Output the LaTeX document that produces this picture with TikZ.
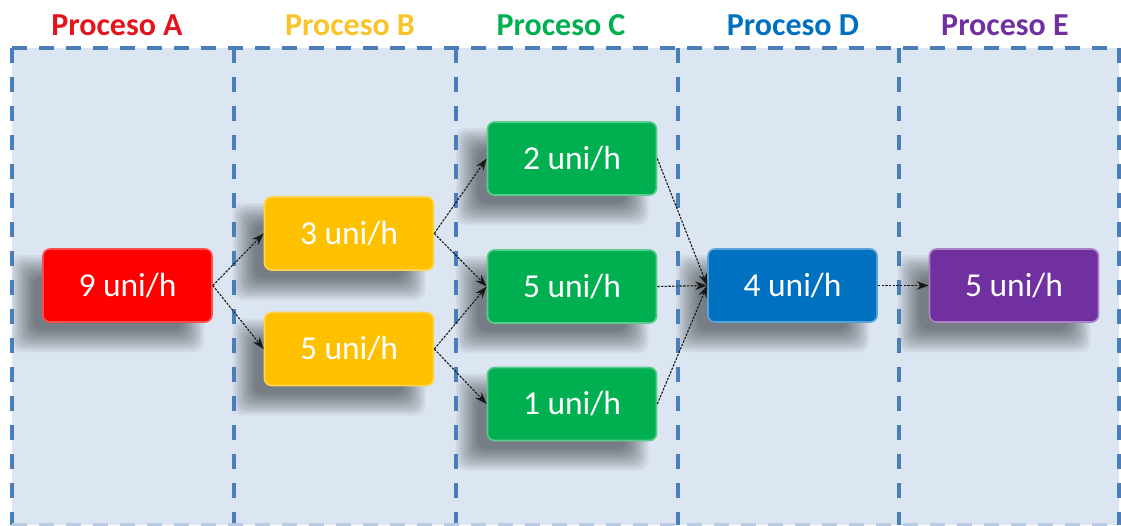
\documentclass[tikz,border=0pt]{standalone}
\usepackage{fontspec}
\setmainfont{Carlito}
\usetikzlibrary{arrows.meta}

\definecolor{panel}{HTML}{DCE6F2}
\definecolor{frameblue}{HTML}{4A7EBB}
\definecolor{redbox}{HTML}{FF0000}
\definecolor{yellowbox}{HTML}{FFC000}
\definecolor{greenbox}{HTML}{00B050}
\definecolor{bluebox}{HTML}{0070C0}
\definecolor{purplebox}{HTML}{7030A0}
\definecolor{redtitle}{HTML}{E3141C}
\definecolor{yellowtitle}{HTML}{F8C42A}

% soft drop shadow under a unit box centred at (#1,#2)
\newcommand\softshadow[2]{%
  \foreach \i in {0,...,11}{%
    \fill[black,opacity=0.048,rounded corners=10pt]
      ({#1-116.5+2*\i},{#2-30.5+2*\i}) rectangle ({#1+76.5-2*\i},{#2+66.5-2*\i});
  }%
}

\begin{document}
\begin{tikzpicture}[x=1pt,y=-1pt,
  unitbox/.style={rounded corners=7pt, minimum width=169pt, minimum height=73pt,
    inner sep=0pt, text=white, line width=1.6pt,
    font=\fontsize{33.5}{38}\selectfont},
  title/.style={anchor=base, font=\fontsize{32}{36}\selectfont\bfseries},
  divider/.style={frameblue, line width=3.2pt, dash pattern=on 15pt off 12pt},
  flow/.style={black!90, line width=1.1pt, dash pattern=on 2.4pt off 1.3pt,
    -{Stealth[length=12pt,width=8.5pt]}}]
\useasboundingbox (0,0) rectangle (1121,525);

% lane panel
\fill[panel] (12,48) rectangle (1119,525);

% shadows beneath the boxes
\softshadow{127.5}{285.5}
\softshadow{349}{233.5}
\softshadow{349}{349}
\softshadow{572}{158.5}
\softshadow{572}{286.5}
\softshadow{572}{404}
\softshadow{792.5}{285.5}
\softshadow{1014}{285.5}

% lane borders
\draw[divider] (12,48) -- (1119,48);
\foreach \x in {12,234,456,678,899,1119}
  \draw[divider, dash pattern=on 15pt off 14pt] (\x,48) -- (\x,525);
\draw[divider, frameblue!40] (12,525) -- (1119,525);

% lane titles
\node[title, text=redtitle]    (tA) at (117,35) {Proceso A};
\node[title, text=yellowtitle] (tB) at (350,35) {Proceso B};
\node[title, text=greenbox]    (tC) at (561,35) {Proceso C};
\node[title, text=bluebox]     (tD) at (793,35) {Proceso D};
\node[title, text=purplebox]   (tE) at (1005,35) {Proceso E};

% process units
\node[unitbox, fill=redbox, draw=redbox!70!white]       (a)  at (127.5,285.5) {9 uni/h};
\node[unitbox, fill=yellowbox, draw=yellowbox!70!white] (b1) at (349,233.5)   {3 uni/h};
\node[unitbox, fill=yellowbox, draw=yellowbox!70!white] (b2) at (349,349)     {5 uni/h};
\node[unitbox, fill=greenbox, draw=greenbox!65!white]   (c1) at (572,158.5)   {2 uni/h};
\node[unitbox, fill=greenbox, draw=greenbox!65!white]   (c2) at (572,286.5)   {5 uni/h};
\node[unitbox, fill=greenbox, draw=greenbox!65!white]   (c3) at (572,404)     {1 uni/h};
\node[unitbox, fill=bluebox, draw=bluebox!65!white]     (d)  at (792.5,285.5) {4 uni/h};
\node[unitbox, fill=purplebox, draw=purplebox!60!white] (e)  at (1014,285.5)  {5 uni/h};

% material flow
\draw[flow] (a.east)  -- (b1.west);
\draw[flow] (a.east)  -- (b2.west);
\draw[flow] (b1.east) -- (c1.west);
\draw[flow] (b1.east) -- (c2.west);
\draw[flow] (b2.east) -- (c2.west);
\draw[flow] (b2.east) -- (c3.west);
\draw[flow] (c1.east) -- (d.west);
\draw[flow] (c2.east) -- (d.west);
\draw[flow] (c3.east) -- (d.west);
\draw[flow] (d.east)  -- (e.west);
\end{tikzpicture}
\end{document}
